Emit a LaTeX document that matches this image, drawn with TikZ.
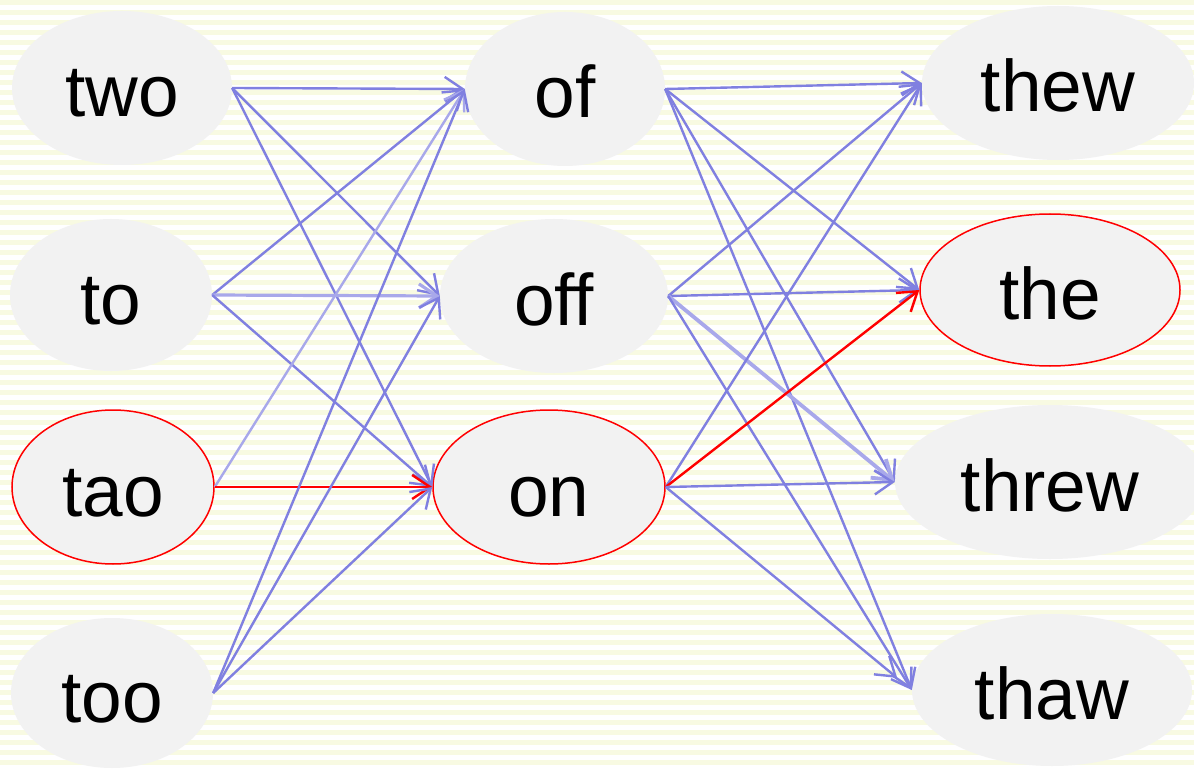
\documentclass[tikz,border=0pt]{standalone}
\usepackage{fontspec}
\setmainfont[Ligatures=NoCommon]{Liberation Sans}
\usetikzlibrary{shapes.geometric,arrows.meta}
\definecolor{stripe}{RGB}{248,250,226}
\definecolor{nodefill}{RGB}{242,242,242}
\definecolor{edgeblue}{RGB}{128,128,224}
\definecolor{edgelight}{RGB}{168,168,234}
\tikzset{
  word/.style={ellipse, fill=nodefill, inner sep=0pt, text height=58pt, text depth=0pt, font=\fontsize{73}{80}\selectfont},
  chosen/.style={draw=red, line width=1.5pt},
  link/.style={draw=edgeblue, line width=2.4pt, -{Straight Barb[length=18pt,width=24pt]}},
  faint/.style={link, draw=edgelight},
  best/.style={link, draw=red},
}
\begin{document}
\begin{tikzpicture}[x=1pt,y=-1pt]
\useasboundingbox (0,0) rectangle (1194,770);
\fill[white] (0,0) rectangle (1194,770);
\foreach \i in {0,...,77} { \fill[stripe] (0,\i*10) rectangle (1194,\i*10+5); }
\begin{scope}
\clip (0,0) rectangle (1194,770);
\node[word, minimum width=220pt, minimum height=154pt] (two) at (122,88) {two};
\node[word, minimum width=202pt, minimum height=152pt] (to) at (111,295) {to};
\node[word, chosen, minimum width=202pt, minimum height=154pt] (tao) at (113,487) {tao};
\node[word, minimum width=202pt, minimum height=150pt] (too) at (112,693) {too};
\node[word, minimum width=200pt, minimum height=154pt] (of) at (565,89) {of};
\node[word, minimum width=228pt, minimum height=154pt] (off) at (554,296) {off};
\node[word, chosen, minimum width=232pt, minimum height=154pt] (on) at (549,487) {on};
\node[word, minimum width=272pt, minimum height=154pt] (thew) at (1058,83) {thew};
\node[word, chosen, minimum width=260pt, minimum height=152pt] (the) at (1050,290) {the};
\node[word, minimum width=310pt, minimum height=154pt] (threw) at (1050,482) {threw};
\node[word, minimum width=280pt, minimum height=152pt] (thaw) at (1052,690) {thaw};
\end{scope}
% left to middle
\draw[link] (two.east) -- (of.west);
\draw[link] (two.east) -- (off.west);
\draw[link] (two.east) -- (on.west);
\draw[link] (to.east) -- (of.west);
\draw[faint, line width=3.2pt] (to.east) -- (off.west);
\draw[link] (to.east) -- (on.west);
\draw[faint] (tao.east) -- (of.west);
\draw[best] (tao.east) -- (on.west);
\draw[link] (too.east) -- (of.west);
\draw[link] (too.east) -- (off.west);
\draw[link] (too.east) -- (on.west);
% middle to right
\draw[link] (of.east) -- (thew.west);
\draw[link] (of.east) -- (the.west);
\draw[link] (of.east) -- (threw.west);
\draw[link] (of.east) -- (thaw.west);
\draw[link] (off.east) -- (thew.west);
\draw[link] (off.east) -- (the.west);
\draw[faint, line width=3.8pt] (off.east) -- (threw.west);
\draw[link] (off.east) -- (thaw.west);
\draw[link] (on.east) -- (thew.west);
\draw[best] (on.east) -- (the.west);
\draw[link] (on.east) -- (threw.west);
\draw[link, shorten >=19pt] (on.east) -- (thaw.west);
\end{tikzpicture}
\end{document}
